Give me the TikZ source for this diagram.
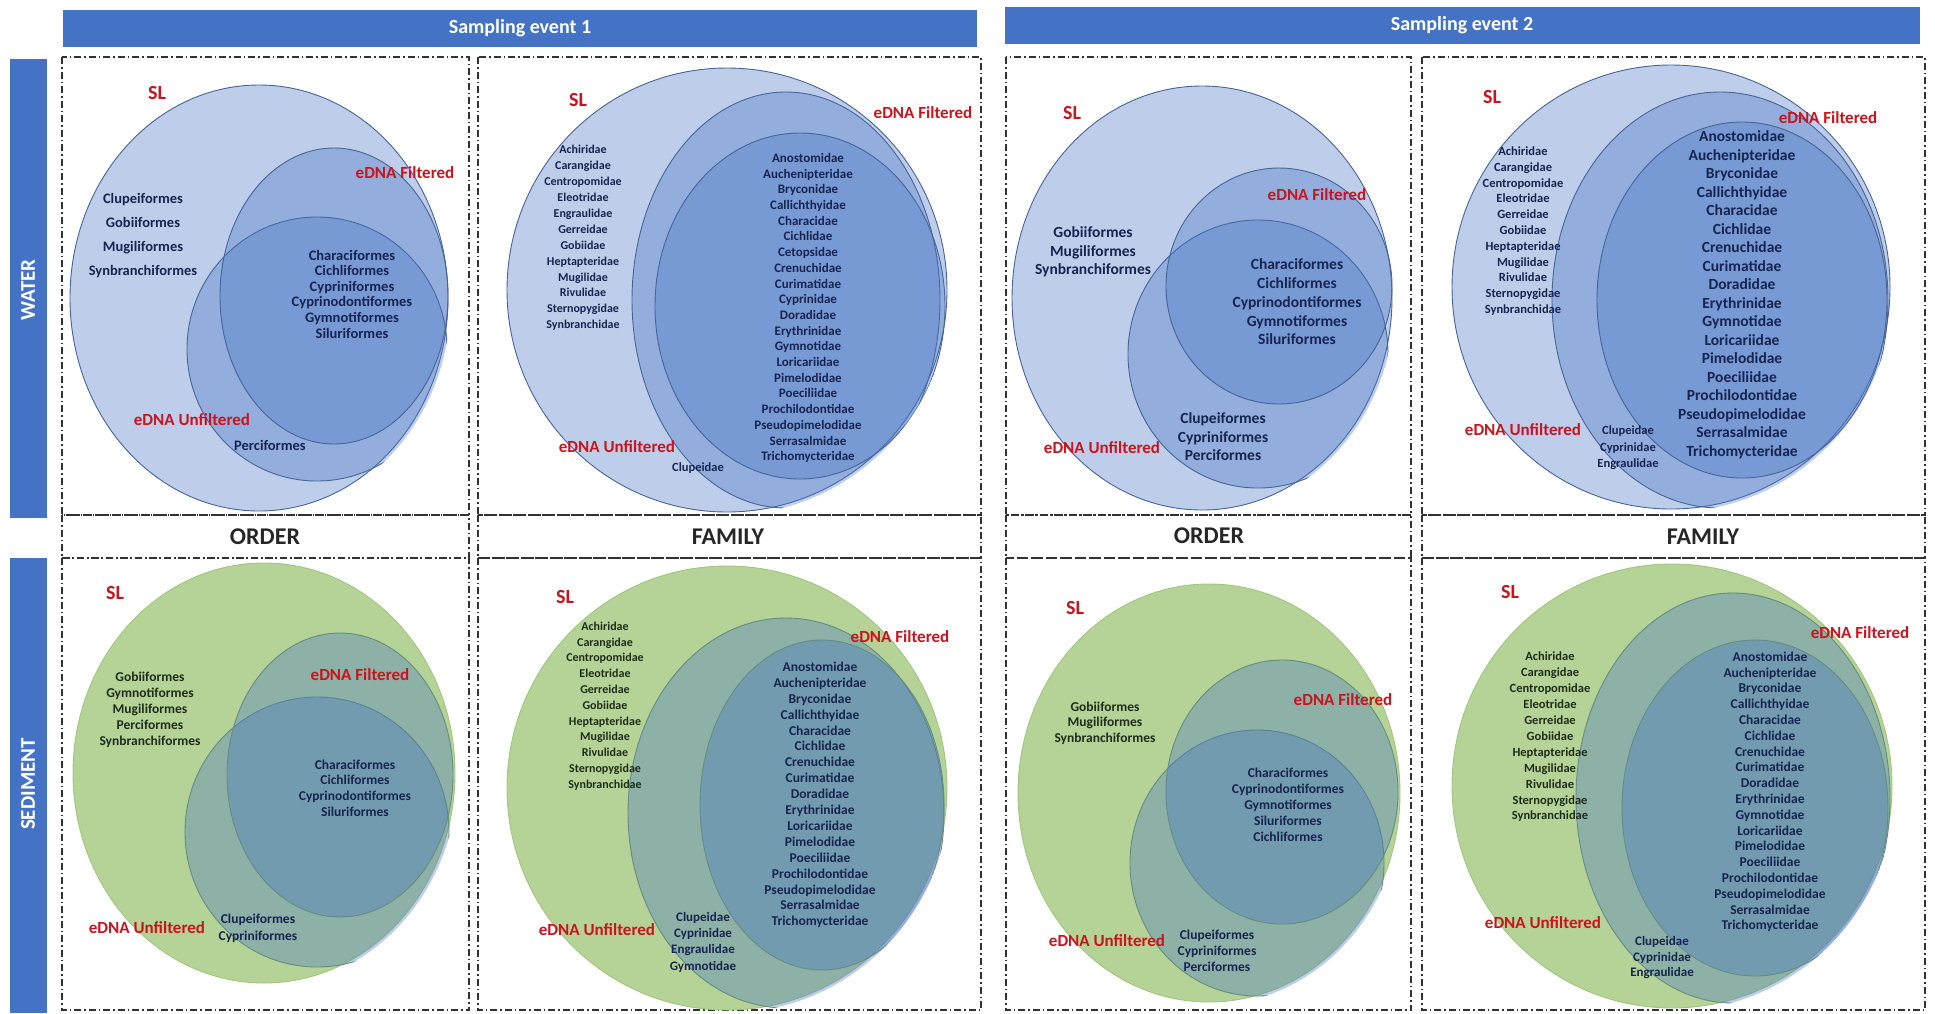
\documentclass[tikz,border=0pt]{standalone}
\usepackage{fontspec}
\setmainfont{Carlito}
\definecolor{hdrblue}{RGB}{68,114,196}
\definecolor{vblue}{RGB}{68,114,196}
\definecolor{vedge}{RGB}{70,100,150}
\definecolor{sgreen}{RGB}{181,211,150}
\definecolor{sedge}{RGB}{160,198,128}
\definecolor{gedge}{RGB}{100,140,130}
\definecolor{lblred}{RGB}{200,20,30}
\definecolor{navy}{RGB}{22,36,80}
\definecolor{dkgreen}{RGB}{30,45,25}
\definecolor{boxline}{RGB}{50,50,50}
\tikzset{
 wsl/.style={draw=vedge, line width=0.9pt, fill=vblue, fill opacity=0.35},
 wset/.style={draw=vedge, line width=0.9pt, fill=vblue, fill opacity=0.35},
 ssl/.style={draw=sedge, line width=0.9pt, fill=sgreen},
 sset/.style={draw=gedge, line width=0.9pt, fill=vblue, fill opacity=0.35},
 panelbox/.style={draw=boxline, line width=1.1pt, dash pattern=on 7pt off 3pt on 1.5pt off 3pt},
 hdrbar/.style={fill=hdrblue, draw=none},
 hdrtext/.style={text=white, font=\bfseries\fontsize{20}{24}\selectfont},
 sidetext/.style={text=white, font=\bfseries\fontsize{21}{24}\selectfont, rotate=90},
 levtext/.style={text=black!85, font=\bfseries\fontsize{24}{28}\selectfont},
 sllbl/.style={text=lblred, font=\bfseries\fontsize{20}{23}\selectfont},
 ednalbl/.style={text=lblred, font=\bfseries\fontsize{17}{20}\selectfont, inner sep=1pt},
 lst/.style n args={2}{text=navy, font=\bfseries\fontsize{#1}{#2}\selectfont, align=center, inner sep=0pt},
 glst/.style n args={2}{text=dkgreen, font=\bfseries\fontsize{#1}{#2}\selectfont, align=center, inner sep=0pt},
}
\begin{document}
\begin{tikzpicture}[x=1pt,y=-1pt]
\useasboundingbox (0,0) rectangle (1935,1013);
% headers
\fill[hdrbar] (63,10) rectangle (977,47);
\node[hdrtext] (h1) at (520,28) {Sampling event 1};
\fill[hdrbar] (1005,7) rectangle (1920,44);
\node[hdrtext] (h2) at (1462,25) {Sampling event 2};
\fill[hdrbar] (10,59) rectangle (47,518);
\node[sidetext] (water) at (28,290) {WATER};
\fill[hdrbar] (10,558) rectangle (47,1013);
\node[sidetext] (sed) at (28,784) {SEDIMENT};
% panel boxes
\foreach \xa/\xb in {62/469,478/981,1006/1411,1422/1925}{
  \draw[panelbox] (\xa,57) rectangle (\xb,515);
  \draw[panelbox] (\xa,515) rectangle (\xb,558);
  \draw[panelbox] (\xa,558) rectangle (\xb,1010);
}
\node[levtext] (o1) at (265,537) {ORDER};
\node[levtext] (f1) at (728,537) {FAMILY};
\node[levtext] (o2) at (1209,536) {ORDER};
\node[levtext] (f2) at (1703,537) {FAMILY};

% ===== Panel 1: water order event 1
\path[wsl] (259,298) ellipse [x radius=189pt, y radius=213pt];
\begin{scope}
\clip (259,298) ellipse [x radius=192pt, y radius=216pt];
\path[wset] (317,349) ellipse [x radius=130pt, y radius=132pt];
\path[wset] (334,296) ellipse [x radius=114pt, y radius=148pt];
\end{scope}
\node[sllbl] (p1sl) at (157,93) {SL};
\node[ednalbl] (p1f) at (405,173) {eDNA Filtered};
\node[ednalbl] (p1u) at (192,420) {eDNA Unfiltered};
\node[lst={14.5}{24}] (p1a) at (143,236) {Clupeiformes\\Gobiiformes\\Mugiliformes\\Synbranchiformes};
\node[lst={14.5}{15.6}] (p1b) at (352,294) {Characiformes\\Cichliformes\\Cypriniformes\\Cyprinodontiformes\\Gymnotiformes\\Siluriformes};
\node[lst={14.5}{16}] (p1c) at (270,445) {Perciformes};

% ===== Panel 2: water family event 1
\path[wsl] (727,290) ellipse [x radius=220pt, y radius=222pt];
\begin{scope}
\clip (727,290) ellipse [x radius=223pt, y radius=225pt];
\path[wset] (786,300) ellipse [x radius=154pt, y radius=208pt];
\path[wset] (800,306) ellipse [x radius=145pt, y radius=173pt];
\end{scope}
\node[sllbl] (p2sl) at (578,100) {SL};
\node[ednalbl] (p2f) at (923,113) {eDNA Filtered};
\node[ednalbl] (p2u) at (617,447) {eDNA Unfiltered};
\node[lst={12}{15.9}] (p2a) at (583,238) {Achiridae\\Carangidae\\Centropomidae\\Eleotridae\\Engraulidae\\Gerreidae\\Gobiidae\\Heptapteridae\\Mugilidae\\Rivulidae\\Sternopygidae\\Synbranchidae};
\node[lst={13}{15.7}] (p2b) at (808,308) {Anostomidae\\Auchenipteridae\\Bryconidae\\Callichthyidae\\Characidae\\Cichlidae\\Cetopsidae\\Crenuchidae\\Curimatidae\\Cyprinidae\\Doradidae\\Erythrinidae\\Gymnotidae\\Loricariidae\\Pimelodidae\\Poeciliidae\\Prochilodontidae\\Pseudopimelodidae\\Serrasalmidae\\Trichomycteridae};
\node[lst={12.5}{15.6}] (p2c) at (698,468) {Clupeidae};

% ===== Panel 3: water order event 2
\path[wsl] (1202,298) ellipse [x radius=190pt, y radius=212pt];
\begin{scope}
\clip (1202,298) ellipse [x radius=193pt, y radius=215pt];
\path[wset] (1258,354) ellipse [x radius=130pt, y radius=134pt];
\path[wset] (1279,286) ellipse [x radius=113pt, y radius=118pt];
\end{scope}
\node[sllbl] (p3sl) at (1072,113) {SL};
\node[ednalbl] (p3f) at (1317,195) {eDNA Filtered};
\node[ednalbl] (p3u) at (1102,448) {eDNA Unfiltered};
\node[lst={15.5}{18.5}] (p3a) at (1093,252) {Gobiiformes\\Mugiliformes\\Synbranchiformes};
\node[lst={15.5}{18.7}] (p3b) at (1297,302) {Characiformes\\Cichliformes\\Cyprinodontiformes\\Gymnotiformes\\Siluriformes};
\node[lst={15.5}{18.5}] (p3c) at (1223,437) {Clupeiformes\\Cypriniformes\\Perciformes};

% ===== Panel 4: water family event 2
\path[wsl] (1671,287) ellipse [x radius=219pt, y radius=222pt];
\begin{scope}
\clip (1671,287) ellipse [x radius=222pt, y radius=225pt];
\path[wset] (1720,300) ellipse [x radius=168pt, y radius=208pt];
\path[wset] (1742,300) ellipse [x radius=145pt, y radius=178pt];
\end{scope}
\node[sllbl] (p4sl) at (1492,97) {SL};
\node[ednalbl] (p4f) at (1828,118) {eDNA Filtered};
\node[ednalbl] (p4u) at (1523,430) {eDNA Unfiltered};
\node[lst={12.5}{15.8}] (p4a) at (1523,231) {Achiridae\\Carangidae\\Centropomidae\\Eleotridae\\Gerreidae\\Gobiidae\\Heptapteridae\\Mugilidae\\Rivulidae\\Sternopygidae\\Synbranchidae};
\node[lst={15.5}{18.5}] (p4b) at (1742,295) {Anostomidae\\Auchenipteridae\\Bryconidae\\Callichthyidae\\Characidae\\Cichlidae\\Crenuchidae\\Curimatidae\\Doradidae\\Erythrinidae\\Gymnotidae\\Loricariidae\\Pimelodidae\\Poeciliidae\\Prochilodontidae\\Pseudopimelodidae\\Serrasalmidae\\Trichomycteridae};
\node[lst={12.5}{16.5}] (p4c) at (1628,448) {Clupeidae\\Cyprinidae\\Engraulidae};

% ===== Panel 5: sediment order event 1
\path[ssl] (264,773) ellipse [x radius=191pt, y radius=210pt];
\begin{scope}
\clip (264,773) ellipse [x radius=194pt, y radius=213pt];
\path[sset] (317,832) ellipse [x radius=132pt, y radius=135pt];
\path[sset] (340,775) ellipse [x radius=113pt, y radius=142pt];
\end{scope}
\node[sllbl] (p5sl) at (115,593) {SL};
\node[ednalbl] (p5f) at (360,675) {eDNA Filtered};
\node[ednalbl] (p5u) at (147,928) {eDNA Unfiltered};
\node[glst={13.5}{16}] (p5a) at (150,710) {Gobiiformes\\Gymnotiformes\\Mugiliformes\\Perciformes\\Synbranchiformes};
\node[lst={13.5}{15.7}] (p5b) at (355,788) {Characiformes\\Cichliformes\\Cyprinodontiformes\\Siluriformes};
\node[lst={13.5}{17}] (p5c) at (258,928) {Clupeiformes\\Cypriniformes};

% ===== Panel 6: sediment family event 1
\path[ssl] (727,788) ellipse [x radius=220pt, y radius=222pt];
\begin{scope}
\clip (727,788) ellipse [x radius=223pt, y radius=225pt];
\path[sset] (786,813) ellipse [x radius=158pt, y radius=195pt];
\path[sset] (822,805) ellipse [x radius=122pt, y radius=165pt];
\end{scope}
\node[sllbl] (p6sl) at (565,597) {SL};
\node[ednalbl] (p6f) at (900,637) {eDNA Filtered};
\node[ednalbl] (p6u) at (597,930) {eDNA Unfiltered};
\node[glst={12}{15.8}] (p6a) at (605,706) {Achiridae\\Carangidae\\Centropomidae\\Eleotridae\\Gerreidae\\Gobiidae\\Heptapteridae\\Mugilidae\\Rivulidae\\Sternopygidae\\Synbranchidae};
\node[lst={13.5}{15.9}] (p6b) at (820,795) {Anostomidae\\Auchenipteridae\\Bryconidae\\Callichthyidae\\Characidae\\Cichlidae\\Crenuchidae\\Curimatidae\\Doradidae\\Erythrinidae\\Loricariidae\\Pimelodidae\\Poeciliidae\\Prochilodontidae\\Pseudopimelodidae\\Serrasalmidae\\Trichomycteridae};
\node[lst={13}{16.3}] (p6c) at (703,942) {Clupeidae\\Cyprinidae\\Engraulidae\\Gymnotidae};

% ===== Panel 7: sediment order event 2
\path[ssl] (1209,793) ellipse [x radius=191pt, y radius=209pt];
\begin{scope}
\clip (1209,793) ellipse [x radius=194pt, y radius=212pt];
\path[sset] (1257,863) ellipse [x radius=127pt, y radius=133pt];
\path[sset] (1282,792) ellipse [x radius=116pt, y radius=132pt];
\end{scope}
\node[sllbl] (p7sl) at (1075,608) {SL};
\node[ednalbl] (p7f) at (1343,700) {eDNA Filtered};
\node[ednalbl] (p7u) at (1107,941) {eDNA Unfiltered};
\node[glst={13.5}{15.5}] (p7a) at (1105,723) {Gobiiformes\\Mugiliformes\\Synbranchiformes};
\node[lst={13.5}{16}] (p7b) at (1288,805) {Characiformes\\Cyprinodontiformes\\Gymnotiformes\\Siluriformes\\Cichliformes};
\node[lst={13.5}{16}] (p7c) at (1217,951) {Clupeiformes\\Cypriniformes\\Perciformes};

% ===== Panel 8: sediment family event 2
\path[ssl] (1672,786) ellipse [x radius=220pt, y radius=222pt];
\begin{scope}
\clip (1672,786) ellipse [x radius=223pt, y radius=225pt];
\path[sset] (1733,798) ellipse [x radius=157pt, y radius=205pt];
\path[sset] (1755,808) ellipse [x radius=133pt, y radius=168pt];
\end{scope}
\node[sllbl] (p8sl) at (1510,592) {SL};
\node[ednalbl] (p8f) at (1860,633) {eDNA Filtered};
\node[ednalbl] (p8u) at (1543,923) {eDNA Unfiltered};
\node[glst={12.5}{15.9}] (p8a) at (1550,737) {Achiridae\\Carangidae\\Centropomidae\\Eleotridae\\Gerreidae\\Gobiidae\\Heptapteridae\\Mugilidae\\Rivulidae\\Sternopygidae\\Synbranchidae};
\node[lst={13.5}{15.8}] (p8b) at (1770,792) {Anostomidae\\Auchenipteridae\\Bryconidae\\Callichthyidae\\Characidae\\Cichlidae\\Crenuchidae\\Curimatidae\\Doradidae\\Erythrinidae\\Gymnotidae\\Loricariidae\\Pimelodidae\\Poeciliidae\\Prochilodontidae\\Pseudopimelodidae\\Serrasalmidae\\Trichomycteridae};
\node[lst={13}{15.5}] (p8c) at (1662,958) {Clupeidae\\Cyprinidae\\Engraulidae};
\end{tikzpicture}
\end{document}
